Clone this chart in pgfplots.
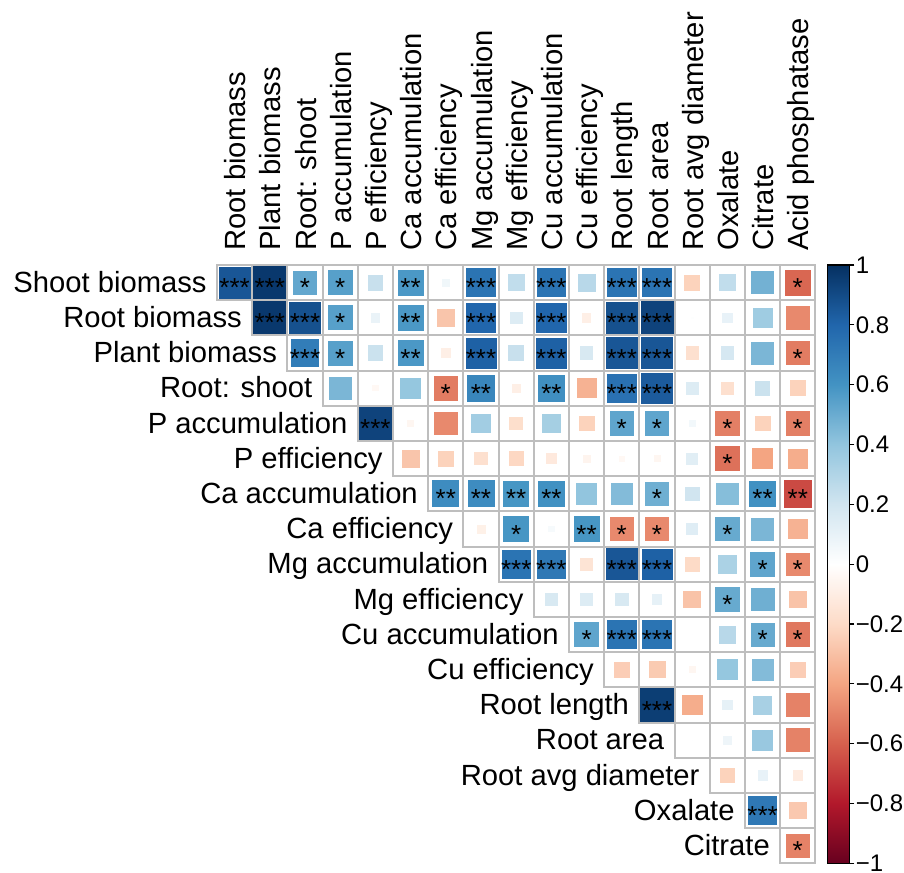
\documentclass[border=0pt]{standalone}
\usepackage{fontspec}
\setmainfont{Liberation Sans}
\usepackage{pgfplots}
\pgfplotsset{compat=1.18}
\usepackage{pgfplotstable}
\usetikzlibrary{calc}
\definecolor{gridgray}{RGB}{190,190,190}
\newcommand\lab{\fontsize{14.6}{17}\selectfont}

\pgfplotstableread{
x y r
1 1 0.86
2 1 0.97
3 1 0.52
4 1 0.55
5 1 0.23
6 1 0.58
7 1 0.065
8 1 0.74
9 1 0.25
10 1 0.74
11 1 0.28
12 1 0.74
13 1 0.74
14 1 -0.23
15 1 0.25
16 1 0.48
17 1 -0.58
2 2 0.97
3 2 0.88
4 2 0.55
5 2 0.09
6 2 0.58
7 2 -0.28
8 2 0.80
9 2 0.15
10 2 0.80
11 2 -0.09
12 2 0.88
13 2 0.93
14 2 0.01
15 2 0.10
16 2 0.36
17 2 -0.48
3 3 0.70
4 3 0.55
5 3 0.22
6 3 0.58
7 3 -0.09
8 3 0.82
9 3 0.23
10 3 0.82
11 3 0.17
12 3 0.86
13 3 0.86
14 3 -0.17
15 3 0.18
16 3 0.46
17 3 -0.52
4 4 0.46
5 4 -0.04
6 4 0.39
7 4 -0.52
8 4 0.66
9 4 -0.09
10 4 0.62
11 4 -0.35
12 4 0.75
13 4 0.84
14 4 0.15
15 4 -0.17
16 4 0.22
17 4 -0.23
5 5 0.93
6 5 -0.05
7 5 -0.48
8 5 0.35
9 5 -0.18
10 5 0.34
11 5 -0.23
12 5 0.53
13 5 0.53
14 5 0.055
15 5 -0.51
16 5 -0.23
17 5 -0.51
6 6 -0.28
7 6 -0.23
8 6 -0.17
9 6 -0.21
10 6 -0.12
11 6 -0.06
12 6 -0.04
13 6 -0.05
14 6 0.13
15 6 -0.55
16 6 -0.40
17 6 -0.37
7 7 0.63
8 7 0.63
9 7 0.59
10 7 0.61
11 7 0.40
12 7 0.44
13 7 0.49
14 7 0.20
15 7 0.43
16 7 0.61
17 7 -0.66
8 8 -0.08
9 8 0.59
10 8 0.04
11 8 0.59
12 8 -0.48
13 8 -0.48
14 8 0.14
15 8 0.51
16 8 0.46
17 8 -0.35
9 9 0.74
10 9 0.72
11 9 -0.15
12 9 0.86
13 9 0.82
14 9 -0.20
15 9 0.32
16 9 0.53
17 9 -0.48
10 10 0.17
11 10 0.15
12 10 0.17
13 10 0.11
14 10 -0.29
15 10 0.51
16 10 0.49
17 10 -0.29
11 11 0.53
12 11 0.74
13 11 0.74
14 11 0.005
15 11 0.28
16 11 0.51
17 11 -0.53
12 12 -0.25
13 12 -0.26
14 12 -0.05
15 12 0.39
16 12 0.44
17 12 -0.25
13 13 0.95
14 13 -0.37
15 13 0.11
16 13 0.33
17 13 -0.50
14 14 0.005
15 14 0.075
16 14 0.38
17 14 -0.50
15 15 -0.23
16 15 0.10
17 15 -0.11
16 16 0.72
17 16 -0.27
17 17 -0.50
}\corr

\pgfplotstableread{
x y s
1 1 ***
2 1 ***
3 1 *
4 1 *
6 1 **
8 1 ***
10 1 ***
12 1 ***
13 1 ***
17 1 *
2 2 ***
3 2 ***
4 2 *
6 2 **
8 2 ***
10 2 ***
12 2 ***
13 2 ***
3 3 ***
4 3 *
6 3 **
8 3 ***
10 3 ***
12 3 ***
13 3 ***
17 3 *
7 4 *
8 4 **
10 4 **
12 4 ***
13 4 ***
5 5 ***
12 5 *
13 5 *
15 5 *
17 5 *
15 6 *
7 7 **
8 7 **
9 7 **
10 7 **
13 7 *
16 7 **
17 7 **
9 8 *
11 8 **
12 8 *
13 8 *
15 8 *
9 9 ***
10 9 ***
12 9 ***
13 9 ***
16 9 *
17 9 *
15 10 *
11 11 *
12 11 ***
13 11 ***
16 11 *
17 11 *
13 13 ***
16 16 ***
17 17 *
}\stars

\begin{document}
\begin{tikzpicture}
\begin{axis}[
  at={(0,0)}, anchor=north west, name=main,
  scale only axis, width=299.2pt, height=299.2pt,
  xmin=0.5, xmax=17.5, ymin=0.5, ymax=17.5, y dir=reverse,
  axis line style={draw=none}, xtick=\empty, ytick=\empty,
  clip=false,
  colormap={RdBu}{rgb255=(103,0,31) rgb255=(178,24,43) rgb255=(214,96,77) rgb255=(244,165,130) rgb255=(253,219,199) rgb255=(255,255,255) rgb255=(209,229,240) rgb255=(146,197,222) rgb255=(67,147,195) rgb255=(33,102,172) rgb255=(5,48,97)},
  point meta min=-1, point meta max=1,
  colorbar,
  colorbar shift/.style={xshift=6pt},
  colorbar style={
    width=11pt, height=299.2pt,
    ytick={-1,-0.8,-0.6,-0.4,-0.2,0,0.2,0.4,0.6,0.8,1},
    yticklabels={−1,−0.8,−0.6,−0.4,−0.2,0,0.2,0.4,0.6,0.8,1},
    ytick pos=right, yticklabel pos=right,
    tick align=outside, major tick length=2.5pt,
    tick style={black, line width=0.6pt},
    axis line style={draw=black, line width=0.6pt},
    yticklabel style={font=\fontsize{12}{14}\selectfont, inner xsep=0.5pt},
  },
]
\addplot[scatter, only marks, mark=square*, point meta=explicit,
  scatter/use mapped color={draw=white, fill=mapped color},
  visualization depends on={8.8*sqrt(abs(\thisrow{r})) \as \msz},
  scatter/@pre marker code/.append style={/tikz/mark size=\msz pt, /tikz/line width=0.4pt}]
  table[x=x, y=y, meta=r] {\corr};
\addplot[only marks, mark=square, mark size=8.8pt, gridgray, line width=1pt, forget plot]
  table[x=x, y=y] {\corr};
\addplot[only marks, mark=none, point meta=explicit symbolic, nodes near coords,
  nodes near coords style={anchor=base, yshift=-7pt, inner sep=0pt, black, font=\fontsize{13}{15}\selectfont}]
  table[x=x, y=y, meta=s] {\stars};

% column labels
\node[rotate=90, anchor=base west, inner sep=0pt, font=\lab] at ($(axis cs:1,0.5)+(5.5pt,7pt)$) {Root biomass};
\node[rotate=90, anchor=base west, inner sep=0pt, font=\lab] at ($(axis cs:2,0.5)+(5.5pt,7pt)$) {Plant biomass};
\node[rotate=90, anchor=base west, inner sep=0pt, font=\lab] at ($(axis cs:3,0.5)+(5.5pt,7pt)$) {Root: shoot};
\node[rotate=90, anchor=base west, inner sep=0pt, font=\lab] at ($(axis cs:4,0.5)+(5.5pt,7pt)$) {P accumulation};
\node[rotate=90, anchor=base west, inner sep=0pt, font=\lab] at ($(axis cs:5,0.5)+(5.5pt,7pt)$) {P efficiency};
\node[rotate=90, anchor=base west, inner sep=0pt, font=\lab] at ($(axis cs:6,0.5)+(5.5pt,7pt)$) {Ca accumulation};
\node[rotate=90, anchor=base west, inner sep=0pt, font=\lab] at ($(axis cs:7,0.5)+(5.5pt,7pt)$) {Ca efficiency};
\node[rotate=90, anchor=base west, inner sep=0pt, font=\lab] at ($(axis cs:8,0.5)+(5.5pt,7pt)$) {Mg accumulation};
\node[rotate=90, anchor=base west, inner sep=0pt, font=\lab] at ($(axis cs:9,0.5)+(5.5pt,7pt)$) {Mg efficiency};
\node[rotate=90, anchor=base west, inner sep=0pt, font=\lab] at ($(axis cs:10,0.5)+(5.5pt,7pt)$) {Cu accumulation};
\node[rotate=90, anchor=base west, inner sep=0pt, font=\lab] at ($(axis cs:11,0.5)+(5.5pt,7pt)$) {Cu efficiency};
\node[rotate=90, anchor=base west, inner sep=0pt, font=\lab] at ($(axis cs:12,0.5)+(5.5pt,7pt)$) {Root length};
\node[rotate=90, anchor=base west, inner sep=0pt, font=\lab] at ($(axis cs:13,0.5)+(5.5pt,7pt)$) {Root area};
\node[rotate=90, anchor=base west, inner sep=0pt, font=\lab] at ($(axis cs:14,0.5)+(5.5pt,7pt)$) {Root avg diameter};
\node[rotate=90, anchor=base west, inner sep=0pt, font=\lab] at ($(axis cs:15,0.5)+(5.5pt,7pt)$) {Oxalate};
\node[rotate=90, anchor=base west, inner sep=0pt, font=\lab] at ($(axis cs:16,0.5)+(5.5pt,7pt)$) {Citrate};
\node[rotate=90, anchor=base west, inner sep=0pt, font=\lab] at ($(axis cs:17,0.5)+(5.5pt,7pt)$) {Acid phosphatase};
% row labels
\node[anchor=base east, inner sep=0pt, font=\lab] at ($(axis cs:0.5,1)+(-5pt,-4.8pt)$) {Shoot biomass};
\node[anchor=base east, inner sep=0pt, font=\lab] at ($(axis cs:1.5,2)+(-5pt,-4.8pt)$) {Root biomass};
\node[anchor=base east, inner sep=0pt, font=\lab] at ($(axis cs:2.5,3)+(-5pt,-4.8pt)$) {Plant biomass};
\node[anchor=base east, inner sep=0pt, font=\lab] at ($(axis cs:3.5,4)+(-5pt,-4.8pt)$) {Root: shoot};
\node[anchor=base east, inner sep=0pt, font=\lab] at ($(axis cs:4.5,5)+(-5pt,-4.8pt)$) {P accumulation};
\node[anchor=base east, inner sep=0pt, font=\lab] at ($(axis cs:5.5,6)+(-5pt,-4.8pt)$) {P efficiency};
\node[anchor=base east, inner sep=0pt, font=\lab] at ($(axis cs:6.5,7)+(-5pt,-4.8pt)$) {Ca accumulation};
\node[anchor=base east, inner sep=0pt, font=\lab] at ($(axis cs:7.5,8)+(-5pt,-4.8pt)$) {Ca efficiency};
\node[anchor=base east, inner sep=0pt, font=\lab] at ($(axis cs:8.5,9)+(-5pt,-4.8pt)$) {Mg accumulation};
\node[anchor=base east, inner sep=0pt, font=\lab] at ($(axis cs:9.5,10)+(-5pt,-4.8pt)$) {Mg efficiency};
\node[anchor=base east, inner sep=0pt, font=\lab] at ($(axis cs:10.5,11)+(-5pt,-4.8pt)$) {Cu accumulation};
\node[anchor=base east, inner sep=0pt, font=\lab] at ($(axis cs:11.5,12)+(-5pt,-4.8pt)$) {Cu efficiency};
\node[anchor=base east, inner sep=0pt, font=\lab] at ($(axis cs:12.5,13)+(-5pt,-4.8pt)$) {Root length};
\node[anchor=base east, inner sep=0pt, font=\lab] at ($(axis cs:13.5,14)+(-5pt,-4.8pt)$) {Root area};
\node[anchor=base east, inner sep=0pt, font=\lab] at ($(axis cs:14.5,15)+(-5pt,-4.8pt)$) {Root avg diameter};
\node[anchor=base east, inner sep=0pt, font=\lab] at ($(axis cs:15.5,16)+(-5pt,-4.8pt)$) {Oxalate};
\node[anchor=base east, inner sep=0pt, font=\lab] at ($(axis cs:16.5,17)+(-5pt,-4.8pt)$) {Citrate};
\end{axis}
\pgfresetboundingbox
\path[use as bounding box] (-108.5pt,132.5pt) rectangle (343.5pt,-303.5pt);
\end{tikzpicture}
\end{document}
